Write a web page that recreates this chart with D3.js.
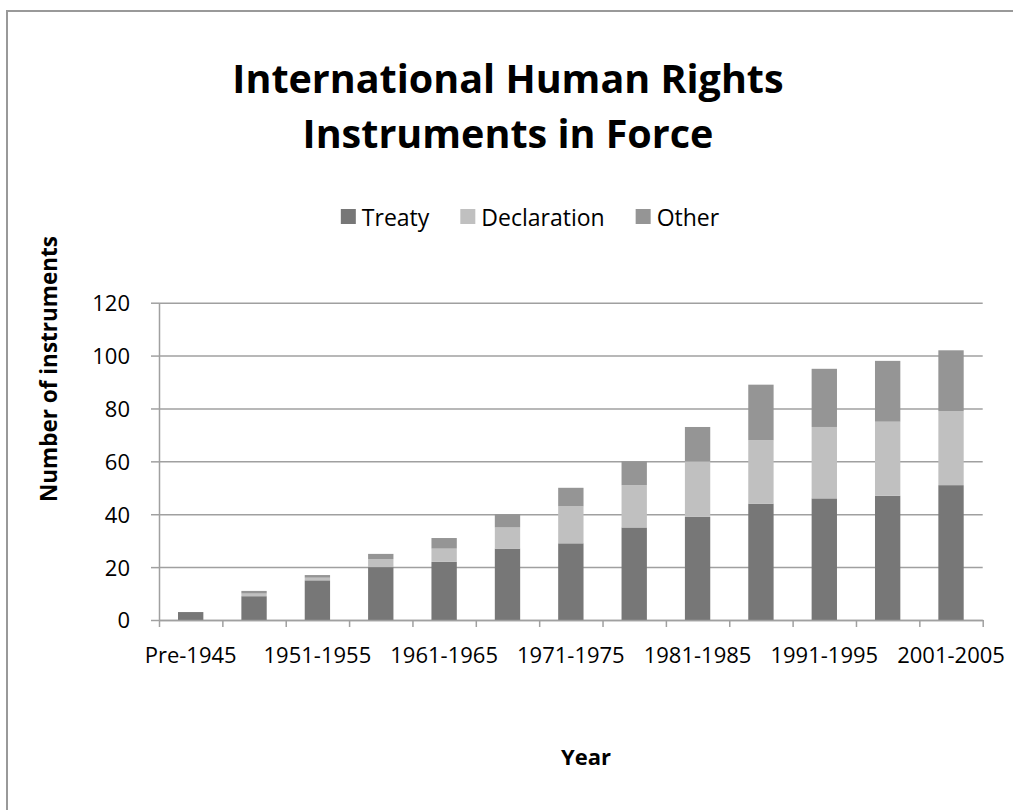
<!DOCTYPE html>
<html lang="en">
<head>
  <meta charset="UTF-8">
  <title>International Human Rights Instruments in Force</title>
  <script src="https://d3js.org/d3.v7.min.js"></script>
  <style>
    body {
      margin: 0;
      background: #fff;
      font-family: 'Open Sans', sans-serif;
    }
  </style>
</head>
<body>
  <svg width="1013" height="810"></svg>

  <script>
    // data
    const periods = ["Pre-1945", "1946-1950", "1951-1955", "1956-1960", "1961-1965", "1966-1970",
      "1971-1975", "1976-1980", "1981-1985", "1986-1990", "1991-1995", "1996-2000", "2001-2005"];
    const treaty      = [3, 9, 15, 20, 22, 27, 29, 35, 39, 44, 46, 47, 51];
    const declaration = [0, 1, 1, 3, 5, 8, 14, 16, 21, 24, 27, 28, 28];
    const other       = [0, 1, 1, 2, 4, 5, 7, 9, 13, 21, 22, 23, 23];
    const seriesNames = ["Treaty", "Declaration", "Other"];
    const yTicks = [0, 20, 40, 60, 80, 100, 120];

    const colors = { "Treaty": "#777777", "Declaration": "#c0c0c0", "Other": "#959595" };

    const svg = d3.select("svg");
    const plotLeft = 159, plotRight = 982.7, plotTop = 302.7, plotBottom = 620;
    const plotW = plotRight - plotLeft;

    // outer chart frame
    svg.append("rect")
      .attr("x", 7).attr("y", 11)
      .attr("width", 1020).attr("height", 820)
      .attr("fill", "none")
      .attr("stroke", "#999").attr("stroke-width", 2);

    // title
    const title = svg.append("text")
      .attr("text-anchor", "middle")
      .attr("font-size", "39.5px")
      .attr("font-weight", "bold");
    title.append("tspan").attr("x", 508).attr("y", 93).text("International Human Rights");
    title.append("tspan").attr("x", 508).attr("y", 148).text("Instruments in Force");

    const rows = periods.map((p, i) => ({
      period: p, Treaty: treaty[i], Declaration: declaration[i], Other: other[i]
    }));
    const stacked = d3.stack().keys(seriesNames)(rows);

    const x = d3.scaleBand().domain(periods).range([plotLeft, plotRight])
      .paddingInner(0.6).paddingOuter(0.3);
    const y = d3.scaleLinear().domain([0, 120]).range([plotBottom, plotTop]);
    const xEdge = d3.scaleLinear().domain([0, periods.length]).range([plotLeft, plotRight]);

    // gridlines
    svg.append("g")
      .attr("transform", `translate(${plotLeft},0)`)
      .call(d3.axisLeft(y).tickValues(yTicks).tickSize(-plotW).tickFormat(""))
      .call(g => g.select(".domain").remove())
      .call(g => g.selectAll("line").attr("stroke", "#a0a0a0").attr("stroke-width", 1.5));

    // y axis
    svg.append("g")
      .attr("transform", `translate(${plotLeft},0)`)
      .call(d3.axisLeft(y).tickValues(yTicks).tickSize(8).tickSizeOuter(0).tickPadding(21))
      .call(g => g.select(".domain").attr("stroke", "#a0a0a0").attr("stroke-width", 1.5))
      .call(g => g.selectAll("line").attr("stroke", "#a0a0a0").attr("stroke-width", 1.5))
      .call(g => g.selectAll("text")
        .attr("font-family", "'Open Sans', sans-serif")
        .attr("font-size", "22px")
        .attr("fill", "#000")
        .attr("dy", "0.36em"));

    // bars
    svg.append("g").selectAll("g")
      .data(stacked)
      .join("g")
      .attr("fill", d => colors[d.key])
      .selectAll("rect")
      .data(d => d)
      .join("rect")
      .attr("x", d => x(d.data.period))
      .attr("y", d => y(d[1]))
      .attr("width", x.bandwidth())
      .attr("height", d => y(d[0]) - y(d[1]));

    // x axis: ticks at category edges
    svg.append("g")
      .attr("transform", `translate(0,${plotBottom})`)
      .call(d3.axisBottom(xEdge).tickValues(d3.range(periods.length + 1)).tickSize(7).tickSizeOuter(0).tickFormat(""))
      .call(g => g.select(".domain").attr("stroke", "#a0a0a0").attr("stroke-width", 1.5))
      .call(g => g.selectAll("line").attr("stroke", "#a0a0a0").attr("stroke-width", 1.5));

    // x labels, every other period
    svg.append("g")
      .attr("transform", `translate(0,${plotBottom})`)
      .call(d3.axisBottom(x).tickSize(0).tickPadding(27)
        .tickFormat((d, i) => i % 2 === 0 ? d : ""))
      .call(g => g.select(".domain").remove())
      .call(g => g.selectAll("text")
        .attr("font-family", "'Open Sans', sans-serif")
        .attr("font-size", "22px")
        .attr("fill", "#000"));

    // axis titles
    svg.append("text")
      .attr("x", 586).attr("y", 765)
      .attr("text-anchor", "middle")
      .attr("font-size", "22px")
      .attr("font-weight", "bold")
      .text("Year");

    svg.append("text")
      .attr("transform", "rotate(-90)")
      .attr("x", -369).attr("y", 57)
      .attr("text-anchor", "middle")
      .attr("font-size", "22.5px")
      .attr("font-weight", "bold")
      .text("Number of instruments");

    // legend
    const legend = svg.append("g");
    let lx = 0;
    seriesNames.forEach(name => {
      legend.append("rect")
        .attr("x", lx).attr("y", 209)
        .attr("width", 15).attr("height", 15)
        .attr("fill", colors[name]);
      const t = legend.append("text")
        .attr("x", lx + 21).attr("y", 226)
        .attr("font-size", "23px")
        .text(name);
      lx += 21 + t.node().getComputedTextLength() + 31;
    });
    const legendW = lx - 31;
    legend.attr("transform", `translate(${530 - legendW / 2},0)`);
  </script>
</body>
</html>
